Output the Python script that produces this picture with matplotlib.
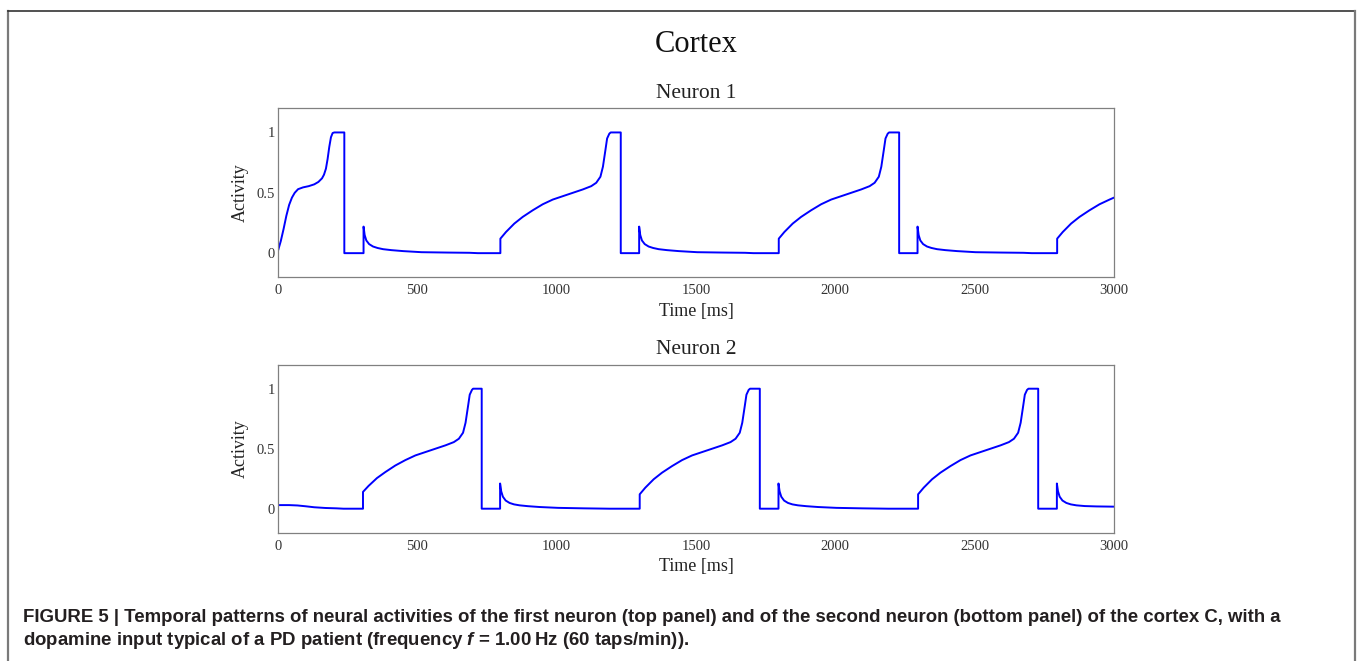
import matplotlib
matplotlib.use("Agg")
import matplotlib.pyplot as plt
from matplotlib.lines import Line2D

# values (time in ms, activity)
n1_time = [0, 10, 20, 30, 40, 50, 60, 72, 90, 110, 130, 145, 158, 165, 172, 178, 184, 190, 196, 202,
           238, 238,
           307, 307, 311, 317, 327, 341, 357, 377, 407, 449, 515, 607, 688, 717,
           798, 798, 818, 848, 878, 914, 950, 986, 1022, 1058, 1094, 1124, 1142, 1157, 1166, 1175,
           1181, 1189, 1194, 1230, 1230,
           1296, 1296, 1300, 1306, 1316, 1330, 1346, 1366, 1396, 1438, 1504, 1596, 1676, 1706,
           1797, 1797, 1817, 1847, 1877, 1913, 1949, 1985, 2021, 2057, 2093, 2123, 2141, 2156, 2165,
           2174, 2180, 2188, 2193, 2229, 2229,
           2295, 2295, 2299, 2305, 2315, 2329, 2345, 2365, 2395, 2437, 2503, 2595, 2675, 2705,
           2796, 2796, 2816, 2846, 2876, 2912, 2948, 2984, 3000]
n1_act = [0.02, 0.10, 0.20, 0.31, 0.40, 0.46, 0.50, 0.53, 0.545, 0.555, 0.57, 0.59, 0.62, 0.65, 0.70,
          0.78, 0.88, 0.96, 0.995, 1.0, 1.0, 0.0,
          0.0, 0.22, 0.15, 0.105, 0.075, 0.055, 0.043, 0.033, 0.025, 0.017, 0.008, 0.005, 0.003, 0.0,
          0.0, 0.12, 0.175, 0.245, 0.30, 0.355, 0.405, 0.444, 0.472, 0.50, 0.528, 0.555, 0.583, 0.633,
          0.716, 0.855, 0.95, 0.99, 1.0, 1.0, 0.0,
          0.0, 0.22, 0.15, 0.105, 0.075, 0.055, 0.043, 0.033, 0.025, 0.017, 0.008, 0.005, 0.003, 0.0,
          0.0, 0.12, 0.175, 0.245, 0.30, 0.355, 0.405, 0.444, 0.472, 0.50, 0.528, 0.555, 0.583, 0.633,
          0.716, 0.855, 0.95, 0.99, 1.0, 1.0, 0.0,
          0.0, 0.22, 0.15, 0.105, 0.075, 0.055, 0.043, 0.033, 0.025, 0.017, 0.008, 0.005, 0.003, 0.0,
          0.0, 0.12, 0.175, 0.245, 0.30, 0.355, 0.405, 0.444, 0.46]

n2_time = [0, 40, 70, 100, 130, 170, 210, 235,
           305, 305, 325, 355, 385, 421, 457, 493, 529, 565, 601, 631, 649, 664, 673, 682, 688, 696,
           700, 731, 731,
           797, 797, 801, 807, 817, 831, 847, 867, 897, 939, 1005, 1097, 1160, 1190,
           1298, 1298, 1318, 1348, 1378, 1414, 1450, 1486, 1522, 1558, 1594, 1624, 1642, 1657, 1666,
           1675, 1681, 1689, 1694, 1729, 1729,
           1796, 1796, 1800, 1806, 1816, 1830, 1846, 1866, 1896, 1938, 2004, 2096, 2160, 2190,
           2297, 2297, 2317, 2347, 2377, 2413, 2449, 2485, 2521, 2557, 2593, 2623, 2641, 2656, 2665,
           2674, 2680, 2688, 2693, 2728, 2728,
           2795, 2795, 2799, 2805, 2815, 2829, 2845, 2865, 2895, 2937, 3000]
n2_act = [0.03, 0.03, 0.027, 0.02, 0.012, 0.006, 0.003, 0.0,
          0.0, 0.14, 0.19, 0.255, 0.305, 0.36, 0.405, 0.444, 0.472, 0.50, 0.528, 0.555, 0.583, 0.633,
          0.716, 0.855, 0.95, 0.99, 1.0, 1.0, 0.0,
          0.0, 0.21, 0.145, 0.10, 0.068, 0.048, 0.036, 0.028, 0.021, 0.014, 0.007, 0.003, 0.001, 0.0,
          0.0, 0.12, 0.175, 0.245, 0.30, 0.355, 0.405, 0.444, 0.472, 0.50, 0.528, 0.555, 0.583, 0.633,
          0.716, 0.855, 0.95, 0.99, 1.0, 1.0, 0.0,
          0.0, 0.21, 0.145, 0.10, 0.068, 0.048, 0.036, 0.028, 0.021, 0.014, 0.007, 0.003, 0.001, 0.0,
          0.0, 0.12, 0.175, 0.245, 0.30, 0.355, 0.405, 0.444, 0.472, 0.50, 0.528, 0.555, 0.583, 0.633,
          0.716, 0.855, 0.95, 0.99, 1.0, 1.0, 0.0,
          0.0, 0.21, 0.145, 0.10, 0.068, 0.048, 0.036, 0.028, 0.022, 0.019, 0.017]

x_ticks = [0, 500, 1000, 1500, 2000, 2500, 3000]
y_ticks = [0, 0.5, 1]
y_ticklabels = ["0", "0.5", "1"]

caption_1 = ("FIGURE 5 | Temporal patterns of neural activities of the first neuron (top panel) and of "
             "the second neuron (bottom panel) of the cortex C, with a")
caption_2 = "dopamine input typical of a PD patient (frequency $f$ = 1.00\u2009Hz (60 taps/min))."

W, H = 1358, 661
plt.rcParams['mathtext.fontset'] = 'custom'
plt.rcParams['mathtext.it'] = 'Liberation Sans:bold:italic'
plt.rcParams['mathtext.rm'] = 'Liberation Sans:bold'

fig = plt.figure(figsize=(W / 100, H / 100), dpi=100)
fig.patch.set_facecolor('white')

serif = 'Liberation Serif'

def panel(rect, t, a, title):
    ax = fig.add_axes(rect)
    ax.plot(t, a, color='#0000FF', linewidth=1.4, solid_joinstyle='round')
    ax.set_xlim(0, 3000)
    ax.set_ylim(-0.2, 1.2)
    ax.set_xticks(x_ticks)
    ax.set_xticklabels([str(v) for v in x_ticks], fontfamily=serif, fontsize=10.5, color='#333333')
    ax.set_yticks(y_ticks)
    ax.set_yticklabels(y_ticklabels, fontfamily=serif, fontsize=10.5, color='#333333')
    ax.tick_params(axis='x', length=0, pad=5)
    ax.tick_params(axis='y', length=0, pad=2)
    for s in ax.spines.values():
        s.set_color('#808080')
        s.set_linewidth(0.9)
    ax.set_xlabel("Time [ms]", fontfamily=serif, fontsize=13, color='#222222', labelpad=4)
    ax.set_ylabel("Activity", fontfamily=serif, fontsize=13, color='#222222', labelpad=6)
    ax.set_title(title, fontfamily=serif, fontsize=15.5, color='#222222', pad=7.5)
    return ax

panel([278 / W, 1 - 277.3 / H, 836 / W, 169 / H], n1_time, n1_act, "Neuron 1")
panel([278 / W, 1 - 532.7 / H, 836 / W, 168 / H], n2_time, n2_act, "Neuron 2")

fig.text(696 / W, 1 - 51.7 / H, "Cortex", fontfamily=serif, fontsize=22, color='#111111',
         ha='center', va='baseline')

# figure frame (left, top, right)
fig.add_artist(Line2D([7.5 / W, 7.5 / W], [0, 1 - 11 / H], color='#7a7a7a', linewidth=1.6,
                      transform=fig.transFigure))
fig.add_artist(Line2D([7.5 / W, 1355 / W], [1 - 11 / H, 1 - 11 / H], color='#333333', linewidth=1.2,
                      transform=fig.transFigure))
fig.add_artist(Line2D([1355 / W, 1355 / W], [0, 1 - 11 / H], color='#7a7a7a', linewidth=1.6,
                      transform=fig.transFigure))

# caption, sized so the first line spans the same width as in the reference
cap_size = 12
t1 = fig.text(22.7 / W, 1 - 622.3 / H, caption_1, fontfamily='Liberation Sans', fontweight='bold',
              fontsize=cap_size, color='#231F20', va='baseline')
fig.canvas.draw()
width = t1.get_window_extent().width
cap_size = cap_size * (1258 / width)
t1.set_fontsize(cap_size)
fig.text(22.7 / W, 1 - 645 / H, caption_2, fontfamily='Liberation Sans', fontweight='bold',
         fontsize=cap_size, color='#231F20', va='baseline')

fig.savefig("out.png", dpi=100, facecolor='white')
